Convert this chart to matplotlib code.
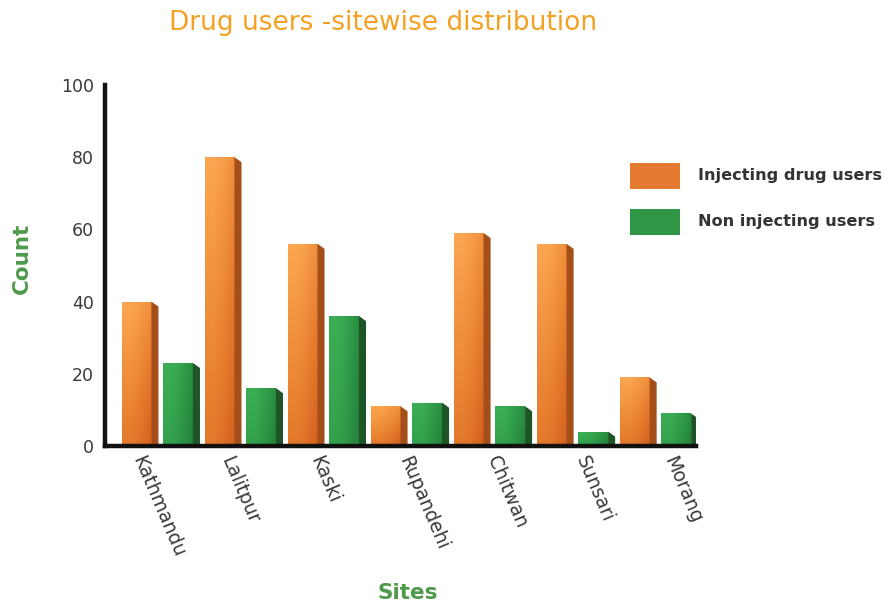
import numpy as np
import matplotlib
matplotlib.use("Agg")
import matplotlib.pyplot as plt
from matplotlib.patches import Polygon, Rectangle
from matplotlib.colors import LinearSegmentedColormap

# Data
sites = ["Kathmandu", "Lalitpur", "Kaski", "Rupandehi", "Chitwan", "Sunsari", "Morang"]
injecting = [40, 80, 56, 11, 59, 56, 19]
non_injecting = [23, 16, 36, 12, 11, 4, 9]
series_names = ["Injecting drug users", "Non injecting users"]
y_ticks = [0, 20, 40, 60, 80, 100]

plt.rcParams["font.family"] = ["DejaVu Sans"]

fig = plt.figure(figsize=(8.89, 6.03), dpi=100)
ax = fig.add_axes([0.118, 0.2604, 0.665, 0.5987])

orange_cmap = LinearSegmentedColormap.from_list("org", ["#d05a1c", "#e8802f", "#fba650"])
green_cmap = LinearSegmentedColormap.from_list("grn", ["#1f7a34", "#2c9444", "#3bae55"])

BAR_W = 0.36
DEPTH_X = 0.085
DEPTH_Y = 1.4


def bar3d(x0, h, cmap, side_color, vert_weight):
    """Front face with a gradient fill plus a darker bevelled side face."""
    rect = Rectangle((x0, 0), BAR_W, h, facecolor="none", edgecolor="none")
    ax.add_patch(rect)
    ny, nx = 64, 32
    yy = np.linspace(0, 1, ny)[:, None]
    xx = np.linspace(0, 1, nx)[None, :]
    horiz = 1 - 0.8 * np.clip((xx - 0.25) / 0.75, 0, 1) ** 1.3
    grad = vert_weight * yy + (1 - vert_weight) * horiz
    im = ax.imshow(grad, extent=(x0, x0 + BAR_W, 0, h), cmap=cmap, vmin=0, vmax=1,
                   aspect="auto", origin="lower", interpolation="bilinear", zorder=2)
    im.set_clip_path(rect)
    side = Polygon([(x0 + BAR_W, 0), (x0 + BAR_W, h),
                    (x0 + BAR_W + DEPTH_X, h - DEPTH_Y), (x0 + BAR_W + DEPTH_X, 0)],
                   closed=True, facecolor=side_color, edgecolor="none", zorder=2)
    ax.add_patch(side)


for i, (a, b) in enumerate(zip(injecting, non_injecting)):
    bar3d(i - 0.44, a, orange_cmap, "#a44e1a", 0.6)
    bar3d(i + 0.06, b, green_cmap, "#1d5526", 0.25)

ax.set_xlim(-0.64, 6.48)
ax.set_ylim(0, 100)
ax.set_xticks([])
ax.set_yticks(y_ticks)
ax.tick_params(axis="y", length=0, labelsize=12.5, labelcolor="#3a3a3a", pad=8)
for s in ("top", "right"):
    ax.spines[s].set_visible(False)
for s in ("left", "bottom"):
    ax.spines[s].set_linewidth(3.2)
    ax.spines[s].set_color("#111111")
    ax.spines[s].set_zorder(3)

# Rotated site labels, spread slightly wider than the bar groups
LABEL_STEP = 1.067
for i, name in enumerate(sites):
    ax.text(-0.14 + i * LABEL_STEP, -2.0, name, rotation=-67, rotation_mode="anchor",
            ha="left", va="top", fontsize=13.5, color="#3a3a3a")

# Legend
legend_colors = ["#e37a30", "#2e9645"]
for k, (name, col) in enumerate(zip(series_names, legend_colors)):
    y = 0.6866 - k * 0.0755
    fig.patches.append(Rectangle((0.7087, y), 0.0562, 0.0431, transform=fig.transFigure,
                                 facecolor=col, edgecolor="none"))
    fig.text(0.785, y + 0.022, name, fontsize=11.6, fontweight="bold",
             color="#333333", va="center", ha="left")

# Titles
fig.text(0.431, 0.962, "Drug users -sitewise distribution", fontsize=19,
         color="#f4a023", ha="center", va="center")
fig.text(0.025, 0.572, "Count", rotation=90, fontsize=15.5, fontweight="bold",
         color="#4e9a4a", ha="center", va="center")
fig.text(0.459, 0.016, "Sites", fontsize=15.5, fontweight="bold",
         color="#4e9a4a", ha="center", va="center")

fig.savefig("out.png", dpi=100)
